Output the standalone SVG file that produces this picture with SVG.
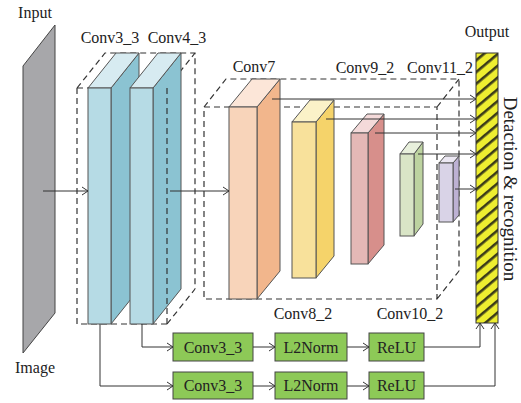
<svg xmlns="http://www.w3.org/2000/svg" width="521" height="403" viewBox="0 0 521 403">
<defs>
<style>
text{font-family:"Liberation Serif","Times New Roman",serif;font-size:16px;fill:#222}
.blk{stroke:#555;stroke-width:1}
.dash{fill:none;stroke:#333;stroke-width:1.2;stroke-dasharray:6,4}
.ln{fill:none;stroke:#333;stroke-width:1}
.gbox{fill:#8DC957;stroke:#444;stroke-width:1}
.ctr{text-anchor:middle}
</style>
<marker id="arr" viewBox="-1 -5 8 10" refX="6" refY="0" markerWidth="8" markerHeight="10" markerUnits="userSpaceOnUse" orient="auto">
<path d="M0,-4 L6,0 L0,4" fill="none" stroke="#333" stroke-width="1"/>
</marker>
<pattern id="hatch" patternUnits="userSpaceOnUse" width="9" height="9" patternTransform="rotate(-40)">
<rect width="9" height="9" fill="#EEEE30"/>
<rect y="0" width="9" height="2.6" fill="#3a3a1a"/>
</pattern>
</defs>

<g id="input">
<polygon points="23,66 55,25 55,313 23,353" fill="#A7A7AA" stroke="#444" stroke-width="1"/>
<text x="35" y="18" class="ctr">Input</text>
<text x="35" y="373" class="ctr">Image</text>
</g>

<g id="box1-back">
<path class="dash" d="M77,88 L105,53 L195,53 L195,289 M167,88 L195,53 M77,88 L77,324 L167,324 M167,324 L195,289 M77,88 L167,88"/>
</g>
<g id="box2">
<path class="dash" d="M204,107 L226,79 L459,79 L459,271 M437,107 L459,79 M204,107 L437,107 L437,299 L204,299 Z M437,299 L459,271"/>
</g>

<g id="conv3_3">
<polygon class="blk" points="111,88 139,53 139,289 111,324" fill="#8BC3D2"/>
<polygon class="blk" points="88,88 116,53 139,53 111,88" fill="#D7EBF1"/>
<rect class="blk" x="88" y="88" width="23" height="236" fill="#B6DBE5"/>
<text x="110" y="43" class="ctr">Conv3_3</text>
</g>
<g id="conv4_3">
<polygon class="blk" points="153,88 181,53 181,289 153,324" fill="#8BC3D2"/>
<polygon class="blk" points="130,88 158,53 181,53 153,88" fill="#D7EBF1"/>
<rect class="blk" x="130" y="88" width="23" height="236" fill="#B6DBE5"/>
<text x="177" y="43" class="ctr">Conv4_3</text>
</g>
<path class="dash" d="M167,88 L167,324"/>

<g id="conv7">
<polygon class="blk" points="257,107 280,79 280,271 257,299" fill="#F2B68C"/>
<polygon class="blk" points="229,107 252,79 280,79 257,107" fill="#FCE6D8"/>
<rect class="blk" x="229" y="107" width="28" height="192" fill="#F8D4BA"/>
<text x="254" y="72" class="ctr">Conv7</text>
</g>
<g id="conv8_2">
<polygon class="blk" points="316,122 334,100 334,256 316,278" fill="#F5D36A"/>
<polygon class="blk" points="292,122 310,100 334,100 316,122" fill="#FBF2C8"/>
<rect class="blk" x="292" y="122" width="24" height="156" fill="#F8E19B"/>
<text x="303" y="319" class="ctr">Conv8_2</text>
</g>
<g id="conv9_2">
<polygon class="blk" points="368,133 384,114 384,245 368,264" fill="#D78F8B"/>
<polygon class="blk" points="351,133 367,114 384,114 368,133" fill="#F4DADA"/>
<rect class="blk" x="351" y="133" width="17" height="131" fill="#E4B8B6"/>
<text x="365" y="73" class="ctr">Conv9_2</text>
</g>
<g id="conv10_2">
<polygon class="blk" points="414,154 423,142 423,224 414,236" fill="#BDD3A0"/>
<polygon class="blk" points="400,154 409,142 423,142 414,154" fill="#E8F0DC"/>
<rect class="blk" x="400" y="154" width="14" height="82" fill="#D9E5C6"/>
<text x="410" y="319" class="ctr">Conv10_2</text>
</g>
<g id="conv11_2">
<polygon class="blk" points="453,163 459,156 459,215 453,222" fill="#BDB1D3"/>
<polygon class="blk" points="439,163 445,156 459,156 453,163" fill="#ECE8F3"/>
<rect class="blk" x="439" y="163" width="14" height="59" fill="#D9D3E7"/>
<text x="440" y="73" class="ctr">Conv11_2</text>
</g>

<g id="output">
<rect x="476" y="53" width="22" height="270" fill="url(#hatch)" stroke="#333" stroke-width="1"/>
<text x="487" y="37" class="ctr">Output</text>
<text transform="translate(504,189) rotate(90)" class="ctr" style="font-size:19px">Detaction &amp; recognition</text>
</g>

<g id="p1-conv"><rect class="gbox" x="173" y="333" width="80" height="28"/><text x="213" y="353" class="ctr">Conv3_3</text></g>
<g id="p1-l2"><rect class="gbox" x="275" y="333" width="72" height="28"/><text x="311" y="353" class="ctr">L2Norm</text></g>
<g id="p1-relu"><rect class="gbox" x="369" y="333" width="55" height="28"/><text x="396.5" y="353" class="ctr">ReLU</text></g>
<g id="p2-conv"><rect class="gbox" x="173" y="372" width="80" height="27"/><text x="213" y="391" class="ctr">Conv3_3</text></g>
<g id="p2-l2"><rect class="gbox" x="275" y="372" width="72" height="27"/><text x="311" y="391" class="ctr">L2Norm</text></g>
<g id="p2-relu"><rect class="gbox" x="369" y="372" width="55" height="27"/><text x="396.5" y="391" class="ctr">ReLU</text></g>

<g id="connectors" class="ln" marker-end="url(#arr)">
<path d="M43,191 L88,191"/>
<path d="M170,191 L229,191"/>
<path d="M272,99 L476,99"/>
<path d="M326,119 L476,119"/>
<path d="M375,133 L476,133"/>
<path d="M418,154 L476,154"/>
<path d="M455,189 L476,189"/>
<path d="M142,324 L142,347 L173,347"/>
<path d="M253,347 L275,347"/>
<path d="M347,347 L369,347"/>
<path d="M424,347 L480,347 L480,323"/>
<path d="M100,324 L100,386 L173,386"/>
<path d="M253,386 L275,386"/>
<path d="M347,386 L369,386"/>
<path d="M424,386 L495,386 L495,323"/>
</g>
</svg>
